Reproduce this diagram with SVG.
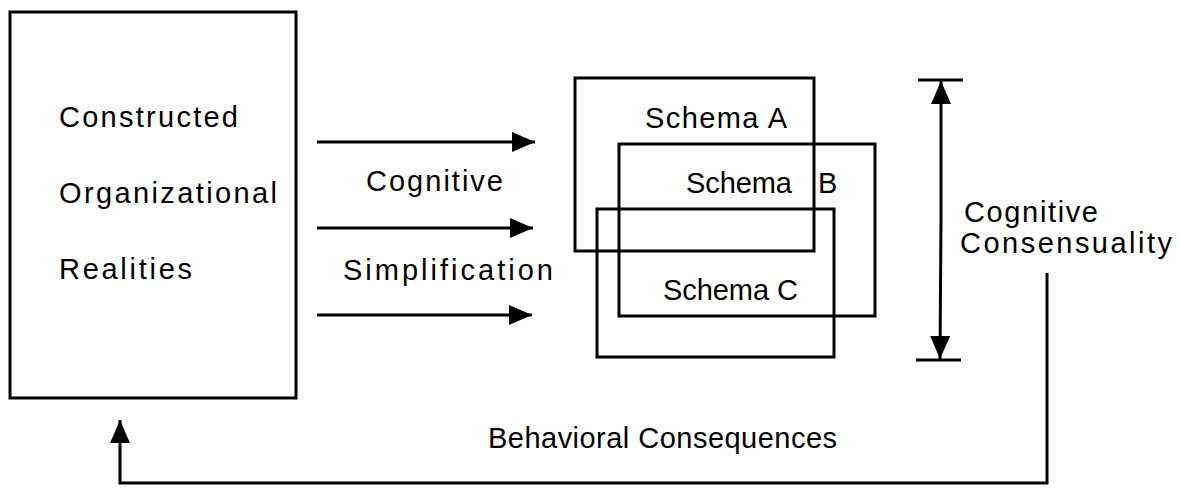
<svg xmlns="http://www.w3.org/2000/svg" width="1181" height="489" viewBox="0 0 1181 489">
  <style>
    .box { fill: none; stroke: #000; stroke-width: 3; }
    .line { fill: none; stroke: #000; stroke-width: 3; }
    .lbl { font-family: "Liberation Sans", Arial, sans-serif; font-size: 29px; fill: #000; }
  </style>
  <defs>
    <marker id="head" markerUnits="userSpaceOnUse" markerWidth="26" markerHeight="22" refX="23" refY="10" orient="auto">
      <path d="M0,0 L23,10 L0,20 Z" fill="#000"/>
    </marker>
  </defs>
  <rect width="1181" height="489" fill="#fff"/>

  <g id="realities">
    <rect class="box" x="10" y="12" width="286" height="386"/>
    <text class="lbl" x="59" y="127" textLength="179" lengthAdjust="spacing">Constructed</text>
    <text class="lbl" x="59" y="203" textLength="218" lengthAdjust="spacing">Organizational</text>
    <text class="lbl" x="59" y="279" textLength="133" lengthAdjust="spacing">Realities</text>
  </g>

  <g id="simplification">
    <text class="lbl" x="366" y="191" textLength="137" lengthAdjust="spacing">Cognitive</text>
    <text class="lbl" x="343" y="280" textLength="210" lengthAdjust="spacing">Simplification</text>
  </g>

  <g id="schema-a">
    <rect class="box" x="575" y="78" width="239" height="173"/>
    <text class="lbl" x="645" y="128" textLength="142" lengthAdjust="spacing">Schema A</text>
  </g>
  <g id="schema-b">
    <rect class="box" x="619" y="144" width="256" height="172"/>
    <text class="lbl" x="686" y="193"><tspan textLength="106" lengthAdjust="spacing">Schema</tspan><tspan x="818">B</tspan></text>
  </g>
  <g id="schema-c">
    <rect class="box" x="597" y="209" width="237" height="148"/>
    <text class="lbl" x="663" y="300" textLength="135" lengthAdjust="spacing">Schema C</text>
  </g>

  <g id="consensuality">
    <line class="line" x1="918" y1="80" x2="963" y2="80"/>
    <line class="line" x1="916" y1="360" x2="961" y2="360"/>
    <text class="lbl" x="964" y="222" textLength="134" lengthAdjust="spacing">Cognitive</text>
    <text class="lbl" x="960" y="253" textLength="212" lengthAdjust="spacing">Consensuality</text>
  </g>

  <g id="consequences">
    <text class="lbl" x="488" y="448" textLength="349" lengthAdjust="spacing">Behavioral Consequences</text>
  </g>

  <g id="connectors">
    <line class="line" x1="317" y1="142" x2="535" y2="142" marker-end="url(#head)"/>
    <line class="line" x1="317" y1="228" x2="533" y2="228" marker-end="url(#head)"/>
    <line class="line" x1="317" y1="315" x2="532" y2="315" marker-end="url(#head)"/>
    <line class="line" x1="941" y1="220" x2="941" y2="81" marker-end="url(#head)"/>
    <line class="line" x1="941" y1="220" x2="940" y2="359" marker-end="url(#head)"/>
    <polyline class="line" points="1047,273 1047,483 120,483 120,420" marker-end="url(#head)"/>
  </g>
</svg>
